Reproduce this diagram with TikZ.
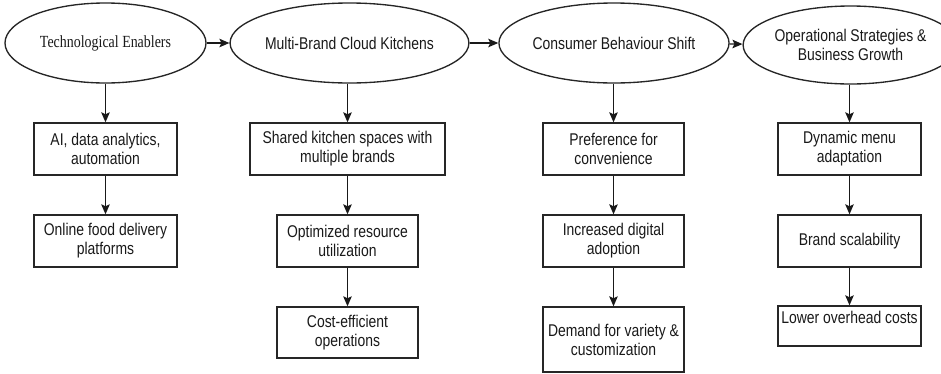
\documentclass[tikz,border=0pt]{standalone}
\usepackage{fontspec}
\setmainfont{Liberation Sans}[FakeStretch=0.82]
\newfontfamily\serifhead{Liberation Serif}[FakeStretch=0.82]
\usetikzlibrary{shapes.geometric,arrows.meta}

\tikzset{
  every picture/.style={x=1pt,y=-1pt},
  txt/.style={font=\fontsize{17}{19}\selectfont, text=black!90, align=center},
  stage/.style={ellipse, draw=black!85, line width=1.35pt, inner sep=0pt, txt},
  stepbox/.style={rectangle, draw=black!85, line width=1.35pt, inner sep=0pt, txt},
  flow/.style={draw=black!90, line width=1.35pt,
    -{Stealth[length=10pt,width=8.5pt,inset=2pt]}},
}

\begin{document}
\begin{tikzpicture}
\useasboundingbox (0,0) rectangle (941,373);

% top row: the four stages
\node[stage, minimum width=201pt, minimum height=80pt,
      font=\serifhead\fontsize{17}{19}\selectfont] (tech) at (105.5,43) {Technological Enablers};
\node[stage, minimum width=195pt, minimum height=80pt] (mbck) at (349.5,43) {Multi-Brand Cloud Kitchens};
\node[stage, minimum width=182pt, minimum height=80pt] (cbs) at (614,43) {Consumer Behaviour Shift};
\node[stage, minimum width=179pt, minimum height=78pt] (osbg) at (850.5,45) {Operational Strategies \&\\Business Growth};

\draw[flow] (tech) -- (mbck);
\draw[flow] (mbck) -- (cbs);
\draw[flow] (cbs) -- (osbg);

% column 1
\node[stepbox, minimum width=143pt, minimum height=52pt] (ai) at (105.5,149) {AI, data analytics,\\automation};
\node[stepbox, minimum width=143pt, minimum height=52pt] (ofd) at (105.5,241) {Online food delivery\\platforms};

% column 2
\node[stepbox, minimum width=195pt, minimum height=52pt] (shk) at (347.5,149) {Shared kitchen spaces with\\multiple brands};
\node[stepbox, minimum width=141pt, minimum height=52pt] (ort) at (347.5,241) {Optimized resource\\utilization};
\node[stepbox, minimum width=141pt, minimum height=51pt] (ceo) at (347.5,332.5) {Cost-efficient\\operations};

% column 3
\node[stepbox, minimum width=141pt, minimum height=52pt] (pfc) at (613.5,149) {Preference for\\convenience};
\node[stepbox, minimum width=141pt, minimum height=52pt] (ida) at (613.5,241) {Increased digital\\adoption};
\node[stepbox, minimum width=141pt, minimum height=65pt] (dvc) at (613.5,339.5) {Demand for variety \&\\customization};

% column 4
\node[stepbox, minimum width=143pt, minimum height=52pt] (dma) at (849.5,149) {Dynamic menu\\adaptation};
\node[stepbox, minimum width=143pt, minimum height=52pt] (bsc) at (849.5,241) {Brand scalability};
\node[stepbox, minimum width=143pt, minimum height=40pt,
      text height=12pt, text depth=18pt] (loc) at (849.5,326) {Lower overhead costs};

% vertical connectors, dropped straight down from each stage
\draw[flow] (ai.north |- tech.south) -- (ai.north);
\draw[flow] (ai) -- (ofd);
\draw[flow] (shk.north |- mbck.south) -- (shk.north);
\draw[flow] (shk) -- (ort);
\draw[flow] (ort) -- (ceo);
\draw[flow] (pfc.north |- cbs.south) -- (pfc.north);
\draw[flow] (pfc) -- (ida);
\draw[flow] (ida) -- (dvc);
\draw[flow] (dma.north |- osbg.south) -- (dma.north);
\draw[flow] (dma) -- (bsc);
\draw[flow] (bsc) -- (loc);
\end{tikzpicture}
\end{document}
